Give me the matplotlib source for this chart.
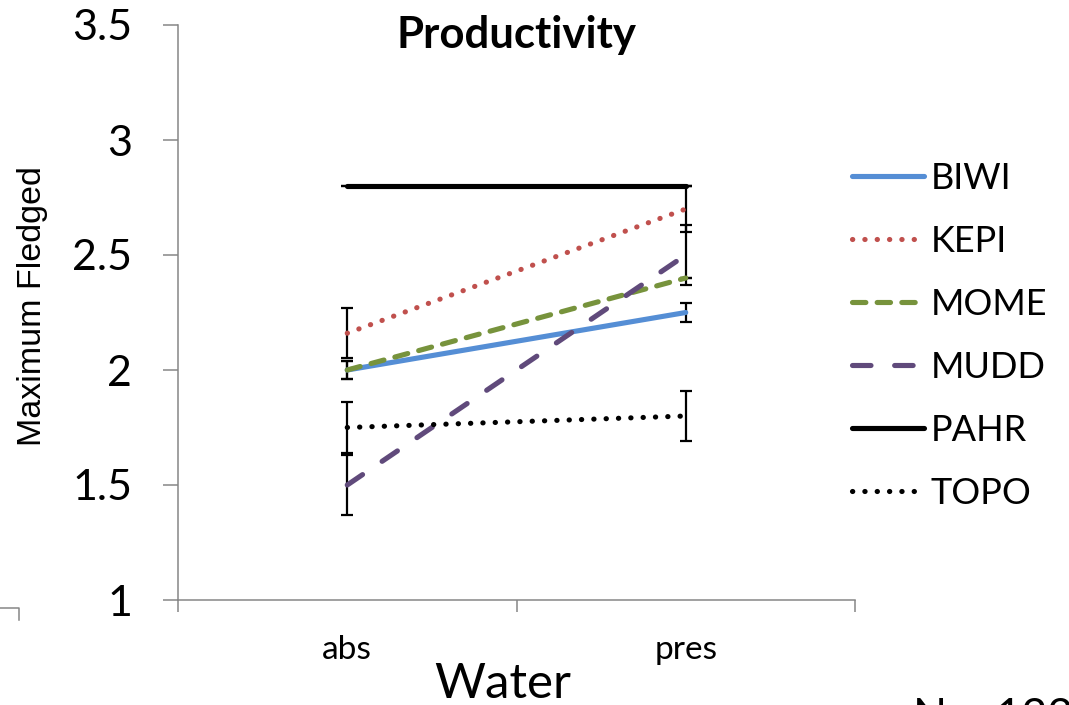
import numpy as np
import matplotlib.pyplot as plt
from matplotlib.lines import Line2D

# data
water = ["abs", "pres"]
species = ["BIWI", "KEPI", "MOME", "MUDD", "PAHR", "TOPO"]
biwi = [2.0, 2.25]
kepi = [2.16, 2.7]
mome = [2.0, 2.4]
mudd = [1.5, 2.5]
pahr = [2.8, 2.8]
topo = [1.75, 1.8]
biwi_err = [0.04, 0.04]
kepi_err = [0.11, 0.10]
mome_err = [0.04, 0.0]
mudd_err = [0.13, 0.13]
pahr_err = [0.0, 0.0]
topo_err = [0.11, 0.11]

W, H = 1069, 705
fig = plt.figure(figsize=(W/100, H/100), dpi=100)
ax = fig.add_axes([178/W, 1-600/H, (855-178)/W, (600-25)/H])

font = "Lato"
x = np.arange(len(water))
lw = 3.7

styles = [
    (biwi, biwi_err, "#558ed5", dict(linestyle="-")),
    (kepi, kepi_err, "#c0504d", dict(dashes=(0.05, 2.35), dash_capstyle="round")),
    (mome, mome_err, "#77933c", dict(dashes=(2.6, 2.2), dash_capstyle="round")),
    (mudd, mudd_err, "#604a7b", dict(dashes=(3.6, 4.6), dash_capstyle="round")),
    (pahr, pahr_err, "#000000", dict(linestyle="-")),
    (topo, topo_err, "#000000", dict(dashes=(0.05, 2.35), dash_capstyle="round")),
]

for (vals, err, col, ls), name in zip(styles, species):
    ax.errorbar(x, vals, yerr=err, fmt="none", ecolor="black",
                elinewidth=1.6, capsize=4.5, capthick=1.6, zorder=2)
    ax.plot(x, vals, color=col, lw=lw, label=name, solid_capstyle="round", zorder=3, **ls)

ax.set_xlim(-0.5, 1.5)
ax.set_ylim(1, 3.5)
ax.set_yticks([1, 1.5, 2, 2.5, 3, 3.5])
ax.set_yticklabels(["1", "1.5", "2", "2.5", "3", "3.5"], fontsize=31, family=font)
ax.set_xticks(x)
ax.set_xticklabels(water, fontsize=24, family=font)
ax.set_xticks([-0.5, 0.5, 1.5], minor=True)
ax.tick_params(axis="x", which="major", length=0, pad=25)
ax.tick_params(axis="x", which="minor", length=8.5, width=1.1, color="#868686")
ax.tick_params(axis="y", length=11, width=1.1, color="#868686", pad=22)

for s in ["top", "right"]:
    ax.spines[s].set_visible(False)
for s in ["left", "bottom"]:
    ax.spines[s].set_color("#868686")
    ax.spines[s].set_linewidth(1.1)

ax.text(0.5, 3.455, "Productivity", ha="center", va="center",
        fontsize=31.5, fontweight="bold", family=font)

fig.text(33/W, 1-306/H, "Maximum Fledged", rotation=90, ha="center", va="center",
         fontsize=24.5, family="Liberation Sans")
fig.text(503/W, 1-684/H, "Water", ha="center", va="center", fontsize=35.5, family=font)
fig.text(913/W, 1-697/H, "N = 122", ha="left", va="top", fontsize=32, family=font)

# bit of another frame at the bottom left
fig.add_artist(Line2D([0, 19/W, 19/W], [1-608/H, 1-608/H, 1-620/H],
                      transform=fig.transFigure, color="#868686", lw=1.1))

leg = ax.legend(loc="center left", bbox_to_anchor=(852/W, 1-336/H),
                bbox_transform=fig.transFigure, frameon=False,
                prop={"family": font, "size": 26}, handlelength=2.0,
                handletextpad=0.18, labelspacing=0.83, borderpad=0,
                borderaxespad=0)

fig.savefig("out.png", dpi=100)
